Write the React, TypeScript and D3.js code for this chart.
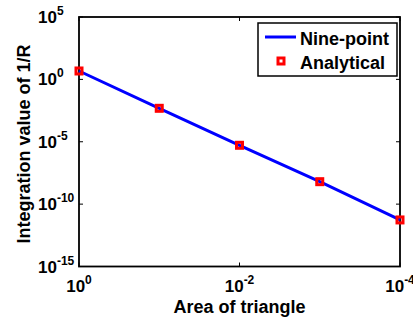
import { useRef, useEffect } from 'react';
import * as d3 from 'd3';

const areas = [1, 1e-1, 1e-2, 1e-3, 1e-4];
const ninePoint = [4.7, 4.8e-3, 5.2e-6, 6.3e-9, 5.4e-12];
const analytical = [4.7, 4.8e-3, 5.2e-6, 6.3e-9, 5.4e-12];

const xTicks = [1, 1e-2, 1e-4];
const xTickExp = ['0', '-2', '-4'];
const yTicks = [1e5, 1, 1e-5, 1e-10, 1e-15];
const yTickExp = ['5', '0', '-5', '-10', '-15'];

const seriesNames = ['Nine-point', 'Analytical'];

export default function App() {
  const svgRef = useRef<SVGSVGElement>(null);

  useEffect(() => {
    if (!svgRef.current) return;
    const svg = d3.select(svgRef.current);
    svg.selectAll('*').remove();

    const left = 79, right = 400, top = 17, bottom = 266.5;
    const font = 'Liberation Sans, Arial, Helvetica, sans-serif';

    const x = d3.scaleLog().domain([1, 1e-4]).range([left, right]);
    const y = d3.scaleLog().domain([1e-15, 1e5]).range([bottom, top]);

    svg.append('rect').attr('width', 413).attr('height', 320).attr('fill', '#fff');

    // Ticks (inward, on all four sides)
    const tl = 4;
    xTicks.forEach(t => {
      svg.append('line').attr('x1', x(t)).attr('x2', x(t)).attr('y1', bottom).attr('y2', bottom - tl)
        .attr('stroke', '#000').attr('stroke-width', 1);
      svg.append('line').attr('x1', x(t)).attr('x2', x(t)).attr('y1', top).attr('y2', top + tl)
        .attr('stroke', '#000').attr('stroke-width', 1);
    });
    yTicks.forEach(t => {
      svg.append('line').attr('x1', left).attr('x2', left + tl).attr('y1', y(t)).attr('y2', y(t))
        .attr('stroke', '#000').attr('stroke-width', 1);
      svg.append('line').attr('x1', right).attr('x2', right - tl).attr('y1', y(t)).attr('y2', y(t))
        .attr('stroke', '#000').attr('stroke-width', 1);
    });

    // Axes box
    svg.append('rect')
      .attr('x', left).attr('y', top)
      .attr('width', right - left).attr('height', bottom - top)
      .attr('fill', 'none').attr('stroke', '#000').attr('stroke-width', 1.8);

    // Tick labels
    xTicks.forEach((t, i) => {
      const txt = svg.append('text')
        .attr('x', x(t)).attr('y', 291.5)
        .attr('text-anchor', 'middle')
        .attr('font-family', font).attr('font-weight', 'bold').attr('font-size', 17);
      txt.append('tspan').text('10');
      txt.append('tspan').attr('dy', -8).attr('font-size', 12).text(xTickExp[i]);
    });
    yTicks.forEach((t, i) => {
      const txt = svg.append('text')
        .attr('x', 38).attr('y', y(t) + 6)
        .attr('font-family', font).attr('font-weight', 'bold').attr('font-size', 17);
      txt.append('tspan').text('10');
      txt.append('tspan').attr('dy', -8).attr('font-size', 12).text(yTickExp[i]);
    });

    // Axis labels
    svg.append('text')
      .attr('x', (left + right) / 2).attr('y', 312.5)
      .attr('text-anchor', 'middle')
      .attr('font-family', font).attr('font-weight', 'bold').attr('font-size', 18)
      .text('Area of triangle');
    svg.append('text')
      .attr('transform', `translate(30,144) rotate(-90)`)
      .attr('text-anchor', 'middle')
      .attr('font-family', font).attr('font-weight', 'bold').attr('font-size', 18)
      .text('Integration value of 1/R');

    // Nine-point line
    const line = d3.line<number>()
      .x((_, i) => x(areas[i]))
      .y(d => y(d));
    svg.append('path')
      .datum(ninePoint)
      .attr('fill', 'none')
      .attr('stroke', '#0000ff')
      .attr('stroke-width', 3)
      .attr('d', line);

    // Analytical markers
    const ms = 6;
    analytical.forEach((v, i) => {
      svg.append('rect')
        .attr('x', x(areas[i]) - ms / 2).attr('y', y(v) - ms / 2)
        .attr('width', ms).attr('height', ms)
        .attr('fill', 'none').attr('stroke', '#ff0000').attr('stroke-width', 3);
    });

    // Legend
    const lg = svg.append('g');
    lg.append('rect')
      .attr('x', 258).attr('y', 23).attr('width', 139).attr('height', 53)
      .attr('fill', '#fff').attr('stroke', '#000').attr('stroke-width', 1.5);
    lg.append('line')
      .attr('x1', 265).attr('x2', 296).attr('y1', 37).attr('y2', 37)
      .attr('stroke', '#0000ff').attr('stroke-width', 3);
    lg.append('rect')
      .attr('x', 281 - ms / 2).attr('y', 61 - ms / 2).attr('width', ms).attr('height', ms)
      .attr('fill', 'none').attr('stroke', '#ff0000').attr('stroke-width', 3);
    seriesNames.forEach((name, i) => {
      lg.append('text')
        .attr('x', 300).attr('y', 45 + i * 23.5)
        .attr('font-family', font).attr('font-weight', 'bold').attr('font-size', 18)
        .text(name);
    });
  }, []);

  return (
    <svg
      ref={svgRef}
      width={413}
      height={320}
      style={{ position: 'absolute', left: 0, top: 0 }}
    />
  );
}
